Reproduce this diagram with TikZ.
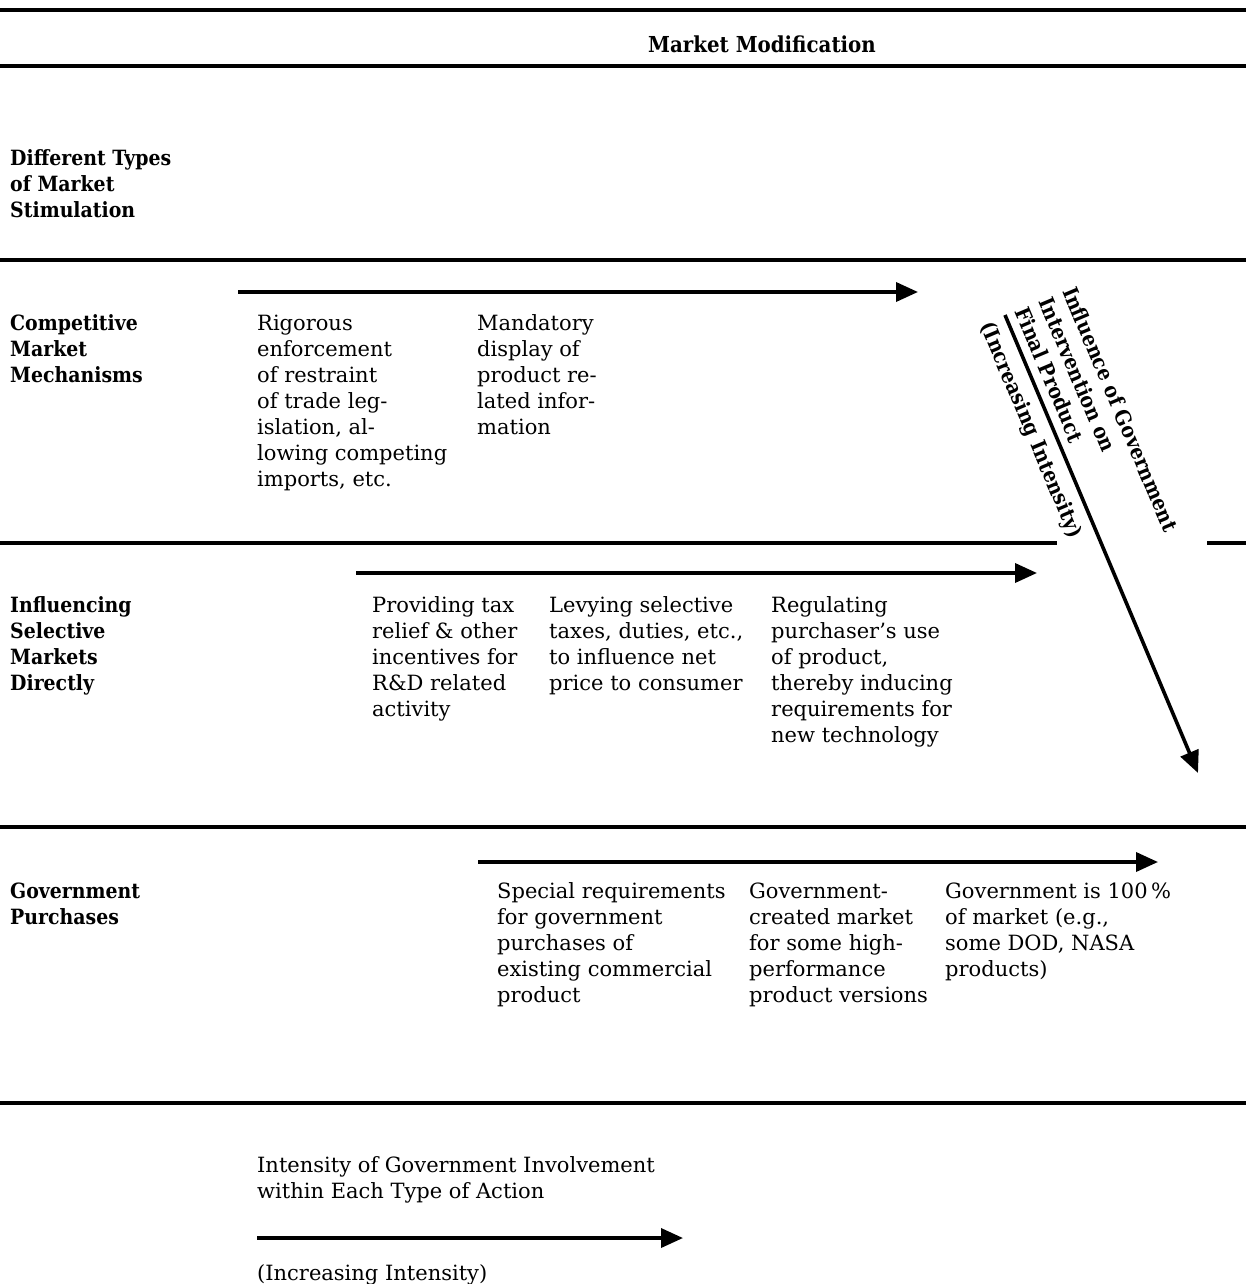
\documentclass[tikz,border=0pt]{standalone}
\usepackage{fontspec}
\setmainfont{DejaVu Serif}[BoldFeatures={FakeStretch=0.9}]
\usetikzlibrary{arrows.meta,calc}
\newcommand\cellt[1]{\begin{tabular}[t]{@{}l@{}}#1\end{tabular}}
\newcommand\cellb[1]{\begin{tabular}[b]{@{}l@{}}#1\end{tabular}}
\newcommand\bodyfont{\fontsize{21}{26}\selectfont}
\newcommand\headfont{\fontsize{21}{26}\selectfont\bfseries}
\newcommand\titlefont{\fontsize{22}{26}\selectfont\bfseries}
\tikzset{
  rule/.style={line width=3.2pt},
  flow/.style={line width=3.6pt,-{Triangle[length=22pt,width=19pt]}},
  txt/.style={inner sep=0pt,anchor=base west,font=\bodyfont},
  head/.style={txt,font=\headfont},
}
\begin{document}
\begin{tikzpicture}[x=1pt,y=-1pt]
\useasboundingbox (0,0) rectangle (1246,1284);
% horizontal rules
\draw[rule] (0,10) -- (1246,10);
\draw[rule] (0,66) -- (1246,66);
\draw[rule] (0,260) -- (1246,260);
\draw[rule] (0,543) -- (1057,543);
\draw[rule] (1207,543) -- (1246,543);
\draw[rule] (0,827) -- (1246,827);
\draw[rule] (0,1103) -- (1246,1103);

% title
\node[head,anchor=base,font=\titlefont] (title) at (762,53) {Market Modification};

% row headings
\node[head] (types) at (10,166) {\cellt{Different Types\\of Market\\Stimulation}};
\node[head] (comp) at (10,330) {\cellt{Competitive\\Market\\Mechanisms}};
\node[head] (infl) at (10,612) {\cellt{Influencing\\Selective\\Markets\\Directly}};
\node[head] (purch) at (10,898) {\cellt{Government\\Purchases}};

% row 1
\coordinate (a1s) at (238,292);
\coordinate (a1e) at (918,292);
\draw[flow] (a1s) -- (a1e);
\node[txt] (c1) at (257,330) {\cellt{Rigorous\\enforcement\\of restraint\\of trade leg-\\islation, al-\\lowing competing\\imports, etc.}};
\node[txt] (c2) at (477,330) {\cellt{Mandatory\\display of\\product re-\\lated infor-\\mation}};

% row 2
\coordinate (a2s) at (356,573);
\coordinate (a2e) at (1037,573);
\draw[flow] (a2s) -- (a2e);
\node[txt] (s1) at (372,612) {\cellt{Providing tax\\relief \& other\\incentives for\\R\&D related\\activity}};
\node[txt] (s2) at (549,612) {\cellt{Levying selective\\taxes, duties, etc.,\\to influence net\\price to consumer}};
\node[txt] (s3) at (771,612) {\cellt{Regulating\\purchaser's use\\of product,\\thereby inducing\\requirements for\\new technology}};

% row 3
\coordinate (a3s) at (478,862);
\coordinate (a3e) at (1158,862);
\draw[flow] (a3s) -- (a3e);
\node[txt] (g1) at (497,898) {\cellt{Special requirements\\for government\\purchases of\\existing commercial\\product}};
\node[txt] (g2) at (749,898) {\cellt{Government-\\created market\\for some high-\\performance\\product versions}};
\node[txt] (g3) at (945,898) {\cellt{Government is 100\,\%\\of market (e.g.,\\some DOD, NASA\\products)}};

% diagonal arrow
\coordinate (dA) at (1005,315);
\coordinate (dB) at (1198,773);
\draw[flow] (dA) -- (dB);
\node[head,rotate=-67.15] (infl2) at ($(dA)!10pt!90:(dB)$) {\cellb{Influence of Government\\Intervention on\\Final Product}};
\node[head,rotate=-67.15] (incr2) at ($(dA)!27pt!-90:(dB)$) {(Increasing Intensity)};

% legend
\node[txt] (leg) at (257,1172) {\cellt{Intensity of Government Involvement\\within Each Type of Action}};
\coordinate (a4s) at (257,1238);
\coordinate (a4e) at (683,1238);
\draw[flow] (a4s) -- (a4e);
\node[txt] (leg2) at (257,1280) {(Increasing Intensity)};
\end{tikzpicture}
\end{document}
